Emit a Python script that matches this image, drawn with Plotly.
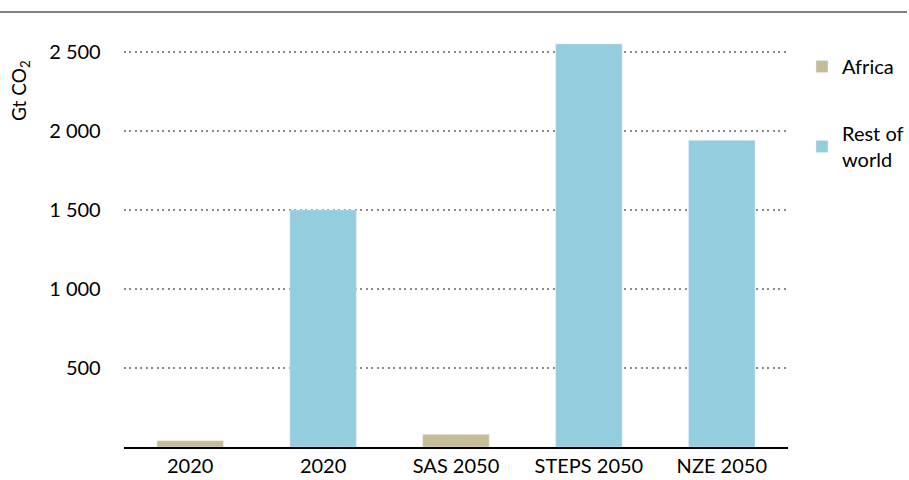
import plotly.graph_objects as go

categories = ["2020", "2020", "SAS 2050", "STEPS 2050", "NZE 2050"]
africa = [40, None, 80, None, None]
rest_of_world = [None, 1500, None, 2550, 1940]
y_ticks = [500, 1000, 1500, 2000, 2500]
y_tick_labels = ["500", "1 000", "1 500", "2 000", "2 500"]

positions = list(range(len(categories)))
FONT = "Lato"
W, H = 909, 480
PL, PR, PT, PB = 124, 790, 36, 447  # plot area in pixels

fig = go.Figure()
fig.add_trace(go.Bar(x=positions, y=africa, name="Africa", marker_color="#C5BD97",
                     width=0.5, legendgroup="a"))
fig.add_trace(go.Bar(x=positions, y=rest_of_world, name="Rest of<br>world", marker_color="#94CDDD",
                     width=0.5, legendgroup="b"))

fig.update_layout(
    width=W, height=H,
    margin=dict(l=0, r=0, t=0, b=0),
    barmode="relative",
    plot_bgcolor="white", paper_bgcolor="white",
    font=dict(family=FONT, size=20, color="black"),
    showlegend=True,
    legend=dict(x=804 / W, y=1 - 47 / H, xanchor="left", yanchor="top", tracegroupgap=38,
                font=dict(size=20), itemwidth=30, bgcolor="rgba(0,0,0,0)"),
    xaxis=dict(domain=[PL / W, PR / W], tickvals=positions, ticktext=categories, range=[-0.5, 4.5],
               showline=True, linecolor="black", linewidth=1.5, ticks="",
               showgrid=False, zeroline=False, automargin=False),
    yaxis=dict(domain=[1 - PB / H, 1 - PT / H], range=[0, 2600], tickvals=y_ticks,
               ticktext=y_tick_labels, automargin=False,
               showgrid=True, gridcolor="#8a8a8a", griddash="2px,3.5px", gridwidth=2,
               zeroline=False, showline=False, ticks="", ticklabelstandoff=22),
    shapes=[dict(type="line", xref="paper", yref="paper",
                 x0=0, x1=1, y0=1 - 12 / H, y1=1 - 12 / H,
                 line=dict(color="#7f7f7f", width=2))],
    annotations=[dict(text="Gt CO<sub>2</sub>", xref="paper", yref="paper",
                      x=20 / W, y=1 - 90 / H, textangle=-90,
                      showarrow=False, xanchor="center", yanchor="middle",
                      font=dict(size=19))],
)

fig.write_html("out.html", config={"displayModeBar": False},
               post_script="document.body.style.margin='0';document.body.style.overflow='hidden';")
